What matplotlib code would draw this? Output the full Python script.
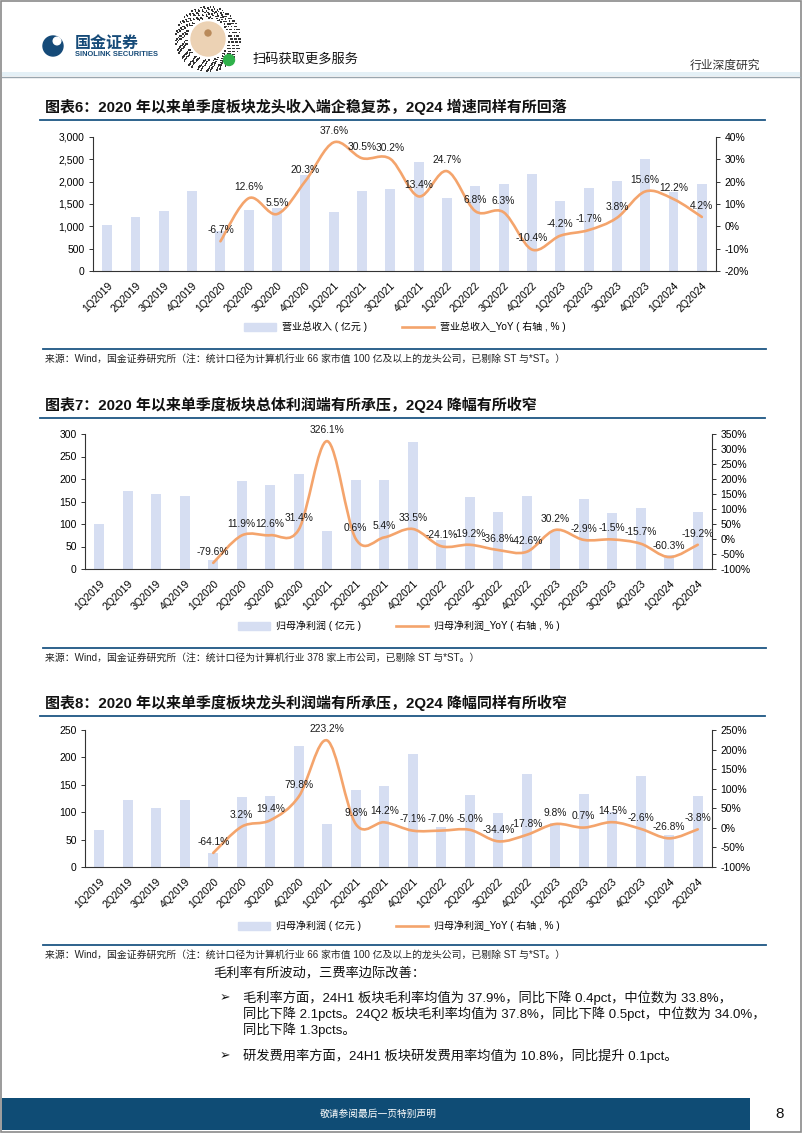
import numpy as np
import matplotlib
matplotlib.use("Agg")
import matplotlib.pyplot as plt
from matplotlib.path import Path
from matplotlib.patches import PathPatch, Rectangle, Circle
from matplotlib.lines import Line2D
from matplotlib.ticker import FuncFormatter, MultipleLocator

plt.rcParams['font.family'] = ['Liberation Sans', 'Noto Sans CJK SC', 'DejaVu Sans']

quarters = ["1Q2019", "2Q2019", "3Q2019", "4Q2019", "1Q2020", "2Q2020", "3Q2020", "4Q2020",
            "1Q2021", "2Q2021", "3Q2021", "4Q2021", "1Q2022", "2Q2022", "3Q2022", "4Q2022",
            "1Q2023", "2Q2023", "3Q2023", "4Q2023", "1Q2024", "2Q2024"]

# chart 6: revenue of leaders (亿元) and YoY from 1Q2020
rev = [1020, 1205, 1350, 1790, 900, 1360, 1400, 2150, 1320, 1790, 1835, 2445,
       1640, 1905, 1950, 2175, 1565, 1860, 2010, 2510, 1770, 1950]
rev_yoy = [-6.7, 12.6, 5.5, 20.3, 37.6, 30.5, 30.2, 13.4, 24.7, 6.8, 6.3, -10.4,
           -4.2, -1.7, 3.8, 15.6, 12.2, 4.2]

# chart 7: net profit of the whole sector
np_all = [100, 174, 166, 162, 21, 195, 186, 211, 85, 197, 197, 283,
          64, 159, 126, 162, 85, 156, 124, 136, 32, 127]
np_all_yoy = [-79.6, 11.9, 12.6, 31.4, 326.1, 0.6, 5.4, 33.5, -24.1, -19.2, -36.8, -42.6,
              30.2, -2.9, -1.5, -15.7, -60.3, -19.2]

# chart 8: net profit of leaders
np_lead = [67, 123, 108, 123, 26, 127, 129, 221, 79, 140, 148, 206,
           73, 132, 98, 169, 80, 134, 101, 166, 59, 129]
np_lead_yoy = [-64.1, 3.2, 19.4, 79.8, 223.2, 9.8, 14.2, -7.1, -7.0, -5.0, -34.4, -17.8,
               9.8, 0.7, 14.5, -2.6, -26.8, -3.8]

W, H = 802, 1133
BAR_C = "#d6def2"
LINE_C = "#f4a46c"
NAVY = "#1c5684"
FOOT_C = "#0f4c75"

fig = plt.figure(figsize=(W / 100, H / 100), dpi=100)
page = fig.add_axes([0, 0, 1, 1])
page.set_xlim(0, W)
page.set_ylim(H, 0)
page.axis("off")


def box(left, top, right, bottom):
    return [left / W, 1 - bottom / H, (right - left) / W, (bottom - top) / H]


def smooth_path(xs, ys):
    # excel-like smoothed line: cubic bezier through the data points
    verts = [(xs[0], ys[0])]
    codes = [Path.MOVETO]
    n = len(xs)
    for i in range(n - 1):
        a = i - 1 if i > 0 else i
        d = i + 2 if i + 2 < n else i + 1
        c1 = (xs[i] + (xs[i + 1] - xs[a]) / 6, ys[i] + (ys[i + 1] - ys[a]) / 6)
        c2 = (xs[i + 1] - (xs[d] - xs[i]) / 6, ys[i + 1] - (ys[d] - ys[i]) / 6)
        verts += [c1, c2, (xs[i + 1], ys[i + 1])]
        codes += [Path.CURVE4] * 3
    return Path(verts, codes)


def combo_chart(rect, bars, yoy, lmax, lstep, rmin, rmax, rstep, bar_name, line_name, legend_y, comma=False):
    ax = fig.add_axes(box(*rect))
    x = np.arange(len(quarters))
    ax.bar(x, bars, width=0.35, color=BAR_C, zorder=1)
    ax.set_xlim(-0.5, len(quarters) - 0.5)
    ax.set_ylim(0, lmax)
    ax.yaxis.set_major_locator(MultipleLocator(lstep))
    if comma:
        ax.yaxis.set_major_formatter(FuncFormatter(lambda v, p: f"{v:,.0f}"))
    ax.set_xticks(x)
    ax.set_xticklabels(quarters, rotation=45, ha="right", va="top", rotation_mode="anchor", fontsize=7.6)
    ax.tick_params(axis="x", length=0, pad=7)
    ax.tick_params(axis="y", length=3, width=0.7, labelsize=7.5, pad=3, color="#333333")
    for s in ["top", "right"]:
        ax.spines[s].set_visible(False)
    for s in ["left", "bottom"]:
        ax.spines[s].set_color("#333333")
        ax.spines[s].set_linewidth(0.8)

    ax2 = ax.twinx()
    ax2.set_ylim(rmin, rmax)
    ax2.yaxis.set_major_locator(MultipleLocator(rstep))
    ax2.yaxis.set_major_formatter(FuncFormatter(lambda v, p: f"{v:.0f}%"))
    ax2.tick_params(axis="y", length=3, width=0.7, labelsize=7.5, pad=3, color="#333333")
    for s in ["top", "left", "bottom"]:
        ax2.spines[s].set_visible(False)
    ax2.spines["right"].set_color("#333333")
    ax2.spines["right"].set_linewidth(0.8)

    lx = x[len(quarters) - len(yoy):]
    ax2.add_patch(PathPatch(smooth_path(lx, yoy), fill=False, edgecolor=LINE_C, lw=1.9,
                            capstyle="round", joinstyle="round"))
    for xi, v in zip(lx, yoy):
        ax2.annotate(f"{v:.1f}%", (xi, v), xytext=(0, 4.5), textcoords="offset points",
                     ha="center", va="bottom", fontsize=7.4, color="#1a1a1a")

    handles = [Rectangle((0, 0), 1, 1, color=BAR_C), Line2D([], [], color=LINE_C, lw=1.9)]
    cx = (rect[0] + rect[2]) / 2
    fig.legend(handles, [bar_name, line_name], loc="center", bbox_to_anchor=(cx / W, 1 - legend_y / H),
               ncol=2, frameon=False, fontsize=7.2, handlelength=3.2, handleheight=0.9,
               columnspacing=3.5, handletextpad=0.6)
    return ax


def block_title(text, y, line_y):
    page.text(45, y, text, fontsize=10.8, fontweight="bold", va="center", ha="left", color="#111111")
    page.plot([40, 765], [line_y, line_y], color=NAVY, lw=1.3)


def source(text, line_y):
    page.plot([43, 766], [line_y, line_y], color=NAVY, lw=1.3)
    page.text(45, line_y + 10, text, fontsize=7.1, va="center", ha="left", color="#222222")


# page frame and header
page.add_patch(Rectangle((1, 1), W - 2, H - 2, fill=False, edgecolor="#8a8a8a", lw=1.2))
page.add_patch(Rectangle((2, 72), W - 4, 4, color="#e4f0f6", lw=0))
page.plot([2, W - 2], [77, 77], color="#9aa6ae", lw=1)
page.add_patch(Circle((53, 46), 10, color="#154a78"))
page.add_patch(Circle((57, 41), 3.8, color="white"))
page.text(75, 43, "国金证券", fontsize=11.5, fontweight="bold", color="#154a78", va="center")
page.text(75, 55, "SINOLINK SECURITIES", fontsize=5.4, fontweight="bold", color="#154a78", va="center")
# mini-program code
for k in range(9):
    r = 21 + k * 1.4
    nd = int(2 * np.pi * r / 3.2)
    for j in range(nd):
        if (j * 7 + k * 5) % 3 != 0:
            t = 2 * np.pi * j / nd
            page.add_patch(Rectangle((208 + r * np.cos(t) - 0.8, 39 + r * np.sin(t) - 0.8), 1.6, 1.6,
                                     color="#333333", lw=0))
page.add_patch(Circle((208, 39), 17, color="#ecd2b4"))
page.add_patch(Circle((208, 33), 3, color="#b98a5a"))
page.add_patch(Circle((229, 60), 5.5, color="#2fb14a"))
page.text(253, 59, "扫码获取更多服务", fontsize=9.5, va="center", ha="left", color="#111111")
page.text(760, 66, "行业深度研究", fontsize=8.5, va="center", ha="right", color="#333333")

# chart 6
block_title("图表6：2020 年以来单季度板块龙头收入端企稳复苏，2Q24 增速同样有所回落", 107, 120)
combo_chart((93, 137, 716, 271), rev, rev_yoy, 3000, 500, -20, 40, 10,
            "营业总收入 ( 亿元 )", "营业总收入_YoY ( 右轴 , % )", 327, comma=True)
source("来源：Wind，国金证券研究所（注：统计口径为计算机行业 66 家市值 100 亿及以上的龙头公司，已剔除 ST 与*ST。）", 349)

# chart 7
block_title("图表7：2020 年以来单季度板块总体利润端有所承压，2Q24 降幅有所收窄", 405, 418)
combo_chart((85, 434, 712, 569), np_all, np_all_yoy, 300, 50, -100, 350, 50,
            "归母净利润 ( 亿元 )", "归母净利润_YoY ( 右轴 , % )", 626)
source("来源：Wind，国金证券研究所（注：统计口径为计算机行业 378 家上市公司，已剔除 ST 与*ST。）", 648)

# chart 8
block_title("图表8：2020 年以来单季度板块龙头利润端有所承压，2Q24 降幅同样有所收窄", 703, 716)
combo_chart((85, 730, 712, 867), np_lead, np_lead_yoy, 250, 50, -100, 250, 50,
            "归母净利润 ( 亿元 )", "归母净利润_YoY ( 右轴 , % )", 926)
source("来源：Wind，国金证券研究所（注：统计口径为计算机行业 66 家市值 100 亿及以上的龙头公司，已剔除 ST 与*ST。）", 945)

# body text
BODY = 9.55
page.text(213, 973, "毛利率有所波动，三费率边际改善：", fontsize=BODY, va="center", color="#111111")
page.text(220, 998, "➢", fontsize=9, va="center", family=["DejaVu Sans"], color="#111111")
page.text(243, 998, "毛利率方面，24H1 板块毛利率均值为 37.9%，同比下降 0.4pct，中位数为 33.8%，",
          fontsize=BODY, va="center", color="#111111")
page.text(243, 1014, "同比下降 2.1pcts。24Q2 板块毛利率均值为 37.8%，同比下降 0.5pct，中位数为 34.0%，",
          fontsize=BODY, va="center", color="#111111")
page.text(243, 1030, "同比下降 1.3pcts。", fontsize=BODY, va="center", color="#111111")
page.text(220, 1056, "➢", fontsize=9, va="center", family=["DejaVu Sans"], color="#111111")
page.text(243, 1056, "研发费用率方面，24H1 板块研发费用率均值为 10.8%，同比提升 0.1pct。",
          fontsize=BODY, va="center", color="#111111")

# footer
page.add_patch(Rectangle((2, 1098), 748, 32, color=FOOT_C, lw=0))
page.text(378, 1114, "敬请参阅最后一页特别声明", fontsize=7, color="white", va="center", ha="center")
page.text(780, 1114, "8", fontsize=11, color="#111111", va="center", ha="center")

fig.savefig("out.png", dpi=100)
